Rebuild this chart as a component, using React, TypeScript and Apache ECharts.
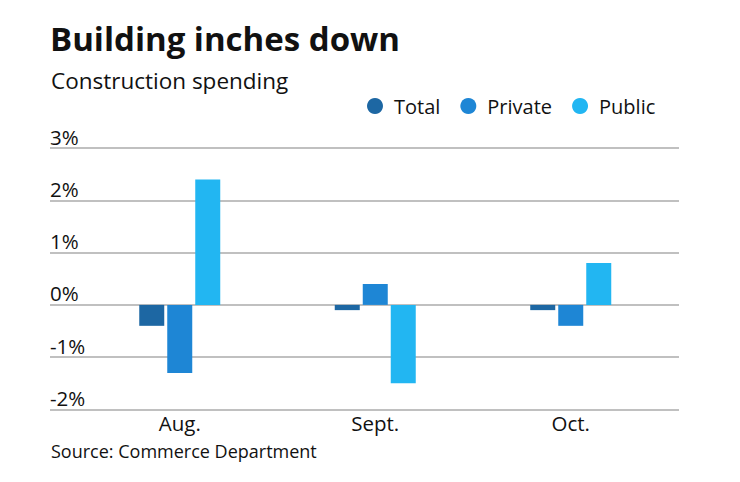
import React, { useEffect, useRef } from "react";
import * as echarts from "echarts";

const categories = ["Aug.", "Sept.", "Oct."];
const total = [-0.4, -0.1, -0.1];
const privateVals = [-1.3, 0.4, -0.4];
const publicVals = [2.4, -1.5, 0.8];
const yTicks = [-2, -1, 0, 1, 2, 3];

const FONT = "'Open Sans', Lato, sans-serif";
const colors = { total: "#1D67A3", private: "#1E86D5", public: "#22B6F2" };

export default function App() {
  const ref = useRef<HTMLDivElement>(null);
  useEffect(() => {
    if (!ref.current) return;
    const chart = echarts.init(ref.current, undefined, { renderer: "svg" });
    const yMin = yTicks[0];
    const yMax = yTicks[yTicks.length - 1];
    chart.setOption({
      animation: false,
      textStyle: { fontFamily: FONT },
      title: [
        {
          text: "Building inches down",
          left: 50,
          top: 22,
          padding: 0,
          textStyle: { fontFamily: FONT, fontSize: 33, fontWeight: "bold", color: "#111" },
        },
        {
          text: "Construction spending",
          left: 51,
          top: 69,
          padding: 0,
          textStyle: { fontFamily: FONT, fontSize: 22.5, fontWeight: "normal", color: "#111" },
        },
        {
          text: "Source: Commerce Department",
          left: 51,
          top: 442,
          padding: 0,
          textStyle: { fontFamily: FONT, fontSize: 18, fontWeight: "normal", color: "#111" },
        },
      ],
      legend: {
        left: 367,
        top: 96,
        padding: 0,
        icon: "circle",
        itemWidth: 16,
        itemHeight: 16,
        itemGap: 20,
        textStyle: { fontFamily: FONT, fontSize: 20, color: "#111", padding: [0, 0, 0, 6] },
        data: ["Total", "Private", "Public"],
      },
      grid: [
        { left: 50, right: 61, top: 148, bottom: 72.5, containLabel: false },
        { left: 82, right: 71.5, top: 148, bottom: 72.5, containLabel: false },
      ],
      xAxis: [
        { type: "category", gridIndex: 0, data: categories, show: false },
        {
          type: "category",
          gridIndex: 1,
          data: categories,
          axisLine: { show: false },
          axisTick: { show: false },
          axisLabel: { fontFamily: FONT, fontSize: 20.5, color: "#111", margin: 3 },
        },
      ],
      yAxis: [
        {
          type: "value",
          gridIndex: 0,
          min: yMin,
          max: yMax,
          interval: 1,
          axisLine: { show: false },
          axisTick: { show: false },
          splitLine: { lineStyle: { color: "#ababab", width: 1.5 } },
          axisLabel: {
            inside: true,
            margin: 0,
            verticalAlign: "bottom",
            padding: [0, 0, 1, 0],
            fontFamily: FONT,
            fontSize: 20.5,
            color: "#111",
            formatter: (v: number) => `${v}%`,
          },
        },
        {
          type: "value",
          gridIndex: 1,
          min: yMin,
          max: yMax,
          interval: 1,
          show: false,
          splitLine: { show: false },
        },
      ],
      series: [
        { name: "Total", type: "bar", xAxisIndex: 1, yAxisIndex: 1, data: total, barWidth: 25, barGap: "12%", itemStyle: { color: colors.total } },
        { name: "Private", type: "bar", xAxisIndex: 1, yAxisIndex: 1, data: privateVals, barWidth: 25, barGap: "12%", itemStyle: { color: colors.private } },
        { name: "Public", type: "bar", xAxisIndex: 1, yAxisIndex: 1, data: publicVals, barWidth: 25, barGap: "12%", itemStyle: { color: colors.public } },
      ],
    });
    return () => chart.dispose();
  }, []);
  return (
    <div
      ref={ref}
      style={{ position: "fixed", left: 0, top: 0, width: 740, height: 482, background: "#fff" }}
    />
  );
}
